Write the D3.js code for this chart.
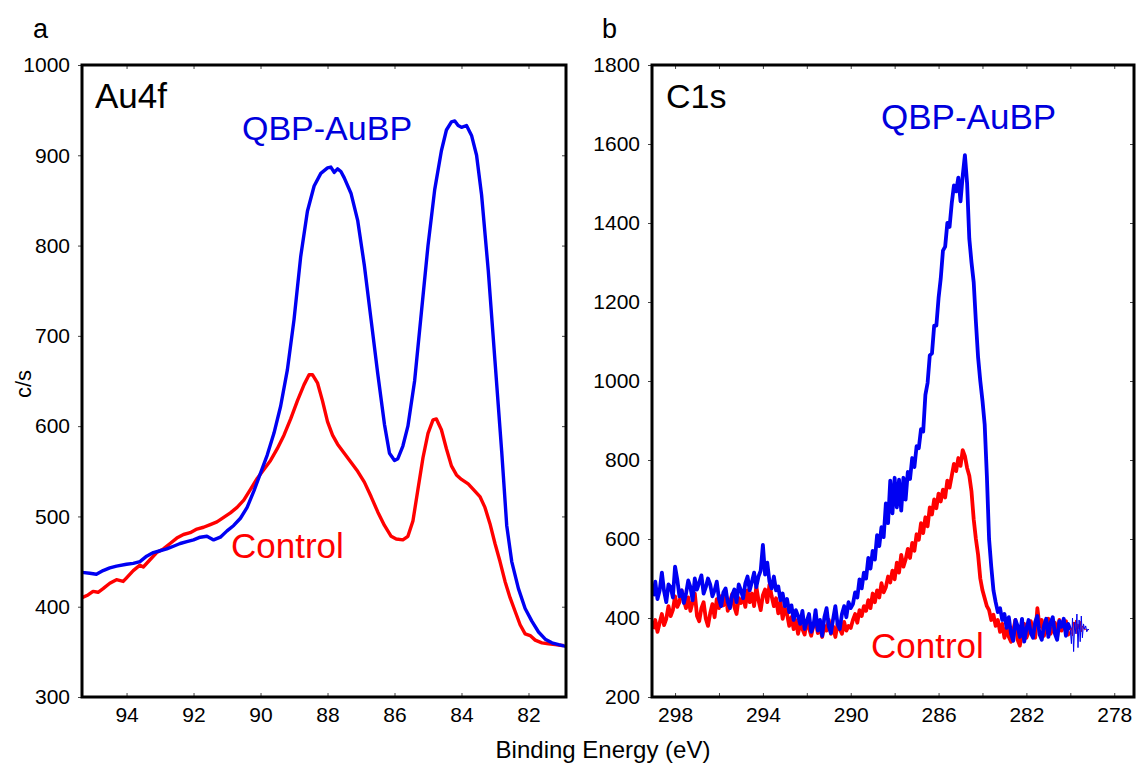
<!DOCTYPE html>
<html>
<head>
<meta charset="utf-8">
<script src="https://cdn.jsdelivr.net/npm/d3@7/dist/d3.min.js"></script>
<style>
  body { margin: 0; background: #fff; }
  svg { display: block; }
</style>
</head>
<body>
<svg width="1136" height="771"></svg>
<script>
// ---- data: Au4f panel (binding energy, counts/s) ----
var au4fQbp = [
  [95.33,438],[95.1,437],[94.9,436],[94.7,440],[94.5,443],[94.3,445],[94.0,447],[93.8,448],
  [93.6,450],[93.4,456],[93.2,460],[93.0,462],[92.8,464],[92.6,467],[92.4,470],[92.2,472],
  [92.0,474],[91.8,477],[91.6,478],[91.4,474],[91.2,477],[91.0,484],[90.8,490],[90.6,498],
  [90.4,510],[90.2,528],[90.0,548],[89.8,568],[89.6,592],[89.4,622],[89.2,662],[89.0,718],
  [88.8,788],[88.6,838],[88.4,866],[88.2,880],[88.0,886],[87.9,887],[87.8,881],[87.7,885],
  [87.6,882],[87.5,875],[87.3,858],[87.1,828],[86.9,778],[86.7,718],[86.5,658],[86.3,602],
  [86.15,570],[86.0,562],[85.9,564],[85.75,578],[85.6,600],[85.4,650],[85.2,725],[85.0,800],
  [84.8,862],[84.6,905],[84.45,928],[84.3,937],[84.2,938],[84.1,933],[84.0,931],[83.85,933],
  [83.7,922],[83.55,900],[83.4,856],[83.2,772],[83.0,672],[82.8,572],[82.65,490],[82.5,450],
  [82.3,420],[82.1,398],[81.9,384],[81.7,372],[81.5,364],[81.3,360],[81.1,358],[80.88,356]
];
var au4fControl = [
  [95.33,410],[95.15,413],[95.0,417],[94.85,416],[94.7,420],[94.5,426],[94.3,430],[94.1,428],
  [94.0,432],[93.8,440],[93.6,446],[93.5,444],[93.3,452],[93.1,460],[92.9,464],[92.7,470],
  [92.5,476],[92.3,480],[92.1,482],[91.9,486],[91.7,488],[91.5,491],[91.3,494],[91.1,499],
  [90.9,504],[90.7,510],[90.5,518],[90.3,530],[90.1,542],[89.9,552],[89.7,562],[89.5,575],
  [89.3,590],[89.1,608],[88.9,628],[88.7,646],[88.55,657],[88.45,657],[88.3,648],[88.15,628],
  [88.0,605],[87.85,590],[87.7,580],[87.5,570],[87.3,560],[87.1,550],[86.9,538],[86.7,522],
  [86.5,505],[86.3,490],[86.1,478],[85.95,475],[85.75,474],[85.6,478],[85.45,495],[85.3,530],
  [85.15,565],[85.0,592],[84.85,607],[84.75,608],[84.6,596],[84.45,575],[84.3,556],[84.15,546],
  [84.0,541],[83.8,536],[83.6,528],[83.45,522],[83.3,510],[83.15,492],[83.0,470],[82.85,450],
  [82.7,428],[82.55,410],[82.4,395],[82.25,380],[82.1,370],[81.95,368],[81.8,363],[81.6,360],
  [81.4,359],[81.2,358],[81.0,357],[80.95,357]
];
var au4fXTicks = [94, 92, 90, 88, 86, 84, 82];
var au4fYTicks = [300, 400, 500, 600, 700, 800, 900, 1000];

// ---- data: C1s panel, sampled every 0.1 eV from 299.0 down to 280.0 ----
var c1sStart = 299.0, c1sStep = 0.1;
var c1sQbp = [
  // 299.0 - 295.0
  455,492,448,470,515,468,440,485,478,452,530,498,455,470,438,462,495,478,445,500,
  472,490,508,462,478,500,485,455,470,492,448,430,465,475,440,425,458,472,440,485,470,
  // 294.9 - 290.0
  450,488,505,470,492,515,478,505,520,585,510,540,492,475,505,470,480,445,462,430,
  448,415,432,395,420,405,385,418,372,392,410,365,380,420,368,395,355,402,425,378,
  362,398,430,385,372,410,430,402,440,425,
  // 289.9 - 285.0
  435,465,452,498,475,515,500,552,525,570,548,610,582,630,605,690,640,748,665,755,
  680,750,672,755,700,770,752,805,782,835,830,878,872,965,995,1065,1070,1140,1140,1210,
  1260,1330,1340,1400,1390,1450,1495,1480,1515,1455,
  // 284.9 - 280.0
  1520,1572,1500,1360,1300,1250,1150,1060,1000,950,890,760,600,530,470,440,415,425,395,410,
  375,402,360,342,395,380,352,398,340,372,395,362,350,390,405,358,345,380,398,352,
  388,402,360,345,392,378,398,355,385,370
];
var c1sControl = [
  // 299.0 - 295.0
  372,395,365,388,410,382,398,430,405,420,455,428,440,470,445,425,452,418,440,462,
  405,392,425,440,398,380,412,435,402,448,425,455,432,470,418,440,460,428,410,450,438,
  // 294.9 - 290.0
  455,428,470,440,462,430,480,445,420,458,472,440,485,455,430,450,412,440,398,425,
  410,380,402,372,395,360,385,372,358,392,375,355,382,398,362,375,352,380,368,395,
  360,378,352,385,372,360,390,368,380,375,
  // 289.9 - 285.0
  395,410,388,420,405,430,418,445,425,462,440,470,452,488,465,478,505,490,520,498,
  540,515,560,530,548,575,552,590,570,612,598,640,615,655,632,680,662,700,678,715,
  695,725,705,748,730,760,790,772,805,785,
  // 284.9 - 280.0
  825,810,780,760,720,650,600,560,500,470,450,430,420,395,408,380,395,365,385,350,
  375,352,340,368,395,345,330,362,385,350,365,392,372,350,425,378,395,355,382,398,
  360,372,388,352,395,368,380,392,358,365
];
// thin end segment, every 0.05 eV from 280.0
var tailStart = 280.0, tailStep = 0.05;
var c1sQbpTail = [370,335,400,315,390,360,410,325,395,340,405,350,385,372,380,365,372,370];
var c1sControlTail = [365,375,355,390,370,395,360,385,372,392,365,380,375,370,372,368,370,371];
var c1sXLabels = [298, 294, 290, 286, 282, 278];
var c1sXMinor = [296, 292, 288, 284, 280];
var c1sYTicks = [200, 400, 600, 800, 1000, 1200, 1400, 1600, 1800];

var BLUE = '#0000f2', RED = '#ff0000';
var FONT = 'Liberation Sans, Arial, Helvetica, sans-serif';

var svg = d3.select('svg');
svg.append('rect').attr('width', 1136).attr('height', 771).attr('fill', '#fff');

function toPairs(start, step, vals) {
  return vals.map(function(v, i) { return [start - i * step, v]; });
}

function drawPanel(cfg) {
  var x = d3.scaleLinear().domain(cfg.xDomain).range([cfg.left, cfg.right]);
  var y = d3.scaleLinear().domain(cfg.yDomain).range([cfg.bottom, cfg.top]);
  var g = svg.append('g');

  g.append('clipPath').attr('id', cfg.id + '-clip')
    .append('rect')
    .attr('x', cfg.left).attr('y', cfg.top)
    .attr('width', cfg.right - cfg.left).attr('height', cfg.bottom - cfg.top);

  // left axis, ticks outward with labels
  g.append('g').attr('class', 'axis')
    .attr('transform', 'translate(' + cfg.left + ',0)')
    .call(d3.axisLeft(y).tickValues(cfg.yTicks).tickSize(4).tickPadding(8).tickFormat(d3.format('d')));
  // right axis, ticks inward
  g.append('g').attr('class', 'axis')
    .attr('transform', 'translate(' + cfg.right + ',0)')
    .call(d3.axisLeft(y).tickValues(cfg.yTicks).tickSize(4).tickFormat(''));
  // bottom axis, ticks inward
  g.append('g').attr('class', 'axis')
    .attr('transform', 'translate(0,' + cfg.bottom + ')')
    .call(d3.axisBottom(x).tickValues(cfg.xLabels).tickSizeInner(-4).tickSizeOuter(0).tickPadding(10).tickFormat(d3.format('d')));
  g.append('g').attr('class', 'axis')
    .attr('transform', 'translate(0,' + cfg.bottom + ')')
    .call(d3.axisTop(x).tickValues(cfg.xMinor).tickSize(4).tickFormat(''));
  // top axis, ticks inward
  g.append('g').attr('class', 'axis')
    .attr('transform', 'translate(0,' + cfg.top + ')')
    .call(d3.axisBottom(x).tickValues(cfg.xLabels.concat(cfg.xMinor)).tickSize(4).tickFormat(''));

  g.selectAll('.axis .domain').remove();
  g.selectAll('.axis line').attr('stroke', '#444').attr('stroke-width', 1);
  g.selectAll('.axis text').attr('font-family', FONT).attr('font-size', 21).attr('fill', '#000');

  var line = d3.line().x(function(d) { return x(d[0]); }).y(function(d) { return y(d[1]); });
  var lines = g.append('g').attr('clip-path', 'url(#' + cfg.id + '-clip)');
  cfg.series.forEach(function(s) {
    lines.append('path').datum(s.data)
      .attr('d', line)
      .attr('fill', 'none')
      .attr('stroke', s.color)
      .attr('stroke-width', s.width)
      .attr('stroke-linejoin', 'round');
  });

  // frame
  g.append('rect')
    .attr('x', cfg.left).attr('y', cfg.top)
    .attr('width', cfg.right - cfg.left).attr('height', cfg.bottom - cfg.top)
    .attr('fill', 'none').attr('stroke', '#000').attr('stroke-width', 3);

  cfg.labels.forEach(function(l) {
    g.append('text').attr('x', l.x).attr('y', l.y)
      .attr('font-family', FONT).attr('font-size', l.size).attr('fill', l.color)
      .text(l.text);
  });
}

drawPanel({
  id: 'a', left: 82, right: 566, top: 65, bottom: 697,
  xDomain: [95.33, 80.88], yDomain: [300, 1000],
  xLabels: au4fXTicks, xMinor: [], yTicks: au4fYTicks,
  series: [
    {data: au4fControl, color: RED, width: 3.4},
    {data: au4fQbp, color: BLUE, width: 3.4}
  ],
  labels: [
    {text: 'Au4f', x: 95, y: 108, size: 35, color: '#000'},
    {text: 'QBP-AuBP', x: 242, y: 140, size: 34, color: '#0000dd'},
    {text: 'Control', x: 231, y: 558, size: 35, color: RED}
  ]
});

drawPanel({
  id: 'b', left: 652, right: 1134, top: 65, bottom: 697,
  xDomain: [299.05, 277.1], yDomain: [200, 1800],
  xLabels: c1sXLabels, xMinor: c1sXMinor, yTicks: c1sYTicks,
  series: [
    {data: toPairs(c1sStart, c1sStep, c1sControl), color: RED, width: 3.8},
    {data: toPairs(c1sStart, c1sStep, c1sQbp), color: BLUE, width: 3.8},
    {data: toPairs(tailStart, tailStep, c1sControlTail), color: RED, width: 1},
    {data: toPairs(tailStart, tailStep, c1sQbpTail), color: BLUE, width: 1}
  ],
  labels: [
    {text: 'C1s', x: 666, y: 108, size: 34, color: '#000'},
    {text: 'QBP-AuBP', x: 881, y: 129, size: 35, color: '#0000dd'},
    {text: 'Control', x: 871, y: 658, size: 35, color: RED}
  ]
});

// panel letters and shared axis titles
svg.append('text').attr('x', 33).attr('y', 38).attr('font-family', FONT).attr('font-size', 27).text('a');
svg.append('text').attr('x', 602).attr('y', 38).attr('font-family', FONT).attr('font-size', 27).text('b');
svg.append('text')
  .attr('transform', 'translate(31,384) rotate(-90)')
  .attr('text-anchor', 'middle')
  .attr('font-family', FONT).attr('font-size', 22)
  .text('c/s');
svg.append('text')
  .attr('x', 603).attr('y', 758)
  .attr('text-anchor', 'middle')
  .attr('font-family', FONT).attr('font-size', 24)
  .text('Binding Energy (eV)');
</script>
</body>
</html>
